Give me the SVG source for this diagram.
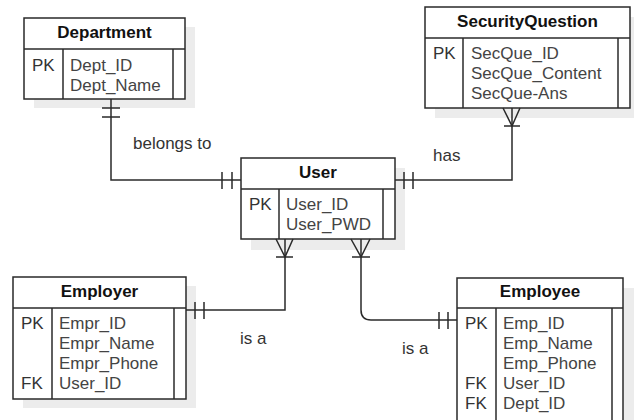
<svg xmlns="http://www.w3.org/2000/svg" width="634" height="420" viewBox="0 0 634 420">
  <style>
    .shadow { fill: #ececec; }
    .box { fill: #ffffff; stroke: #2a2a2a; stroke-width: 1.5; }
    .div { stroke: #2a2a2a; stroke-width: 1.5; fill: none; }
    .title { font-family: "Liberation Sans", Arial, sans-serif; font-size: 17px; font-weight: bold; fill: #111; text-anchor: middle; }
    .key { font-family: "Liberation Sans", Arial, sans-serif; font-size: 17px; fill: #333; }
    .field { font-family: "Liberation Sans", Arial, sans-serif; font-size: 17px; fill: #444; }
    .label { font-family: "Liberation Sans", Arial, sans-serif; font-size: 17px; fill: #333; }
    .edge { stroke: #2a2a2a; stroke-width: 1.5; fill: none; }
  </style>

  <rect width="634" height="420" fill="#ffffff"/>

  <!-- Department -->
  <g id="department">
    <rect class="shadow" x="34" y="27" width="161" height="81"/>
    <rect class="box" x="24" y="18" width="161" height="81"/>
    <line class="div" x1="24" y1="49" x2="185" y2="49"/>
    <line class="div" x1="63" y1="49" x2="63" y2="99"/>
    <line class="div" x1="173" y1="49" x2="173" y2="99"/>
    <text class="title" x="104.5" y="38">Department</text>
    <text class="key" x="32" y="71">PK</text>
    <text class="field" x="70" y="71">Dept_ID</text>
    <text class="field" x="70" y="91">Dept_Name</text>
  </g>

  <!-- SecurityQuestion -->
  <g id="security-question">
    <rect class="shadow" x="435" y="17" width="199" height="101"/>
    <rect class="box" x="425" y="7" width="205" height="101"/>
    <line class="div" x1="425" y1="38" x2="630" y2="38"/>
    <line class="div" x1="463" y1="38" x2="463" y2="108"/>
    <line class="div" x1="618" y1="38" x2="618" y2="108"/>
    <text class="title" x="527.5" y="27">SecurityQuestion</text>
    <text class="key" x="433" y="59">PK</text>
    <text class="field" x="471" y="59">SecQue_ID</text>
    <text class="field" x="471" y="79">SecQue_Content</text>
    <text class="field" x="471" y="99">SecQue-Ans</text>
  </g>

  <!-- User -->
  <g id="user">
    <rect class="shadow" x="251" y="168" width="154" height="82"/>
    <rect class="box" x="241" y="158" width="154" height="81"/>
    <line class="div" x1="241" y1="189" x2="395" y2="189"/>
    <line class="div" x1="279" y1="189" x2="279" y2="239"/>
    <line class="div" x1="383" y1="189" x2="383" y2="239"/>
    <text class="title" x="318" y="178">User</text>
    <text class="key" x="249" y="210">PK</text>
    <text class="field" x="286" y="210">User_ID</text>
    <text class="field" x="286" y="230">User_PWD</text>
  </g>

  <!-- Employer -->
  <g id="employer">
    <rect class="shadow" x="23" y="286" width="173" height="122"/>
    <rect class="box" x="13" y="277" width="173" height="122"/>
    <line class="div" x1="13" y1="308" x2="186" y2="308"/>
    <line class="div" x1="52" y1="308" x2="52" y2="399"/>
    <line class="div" x1="174" y1="308" x2="174" y2="399"/>
    <text class="title" x="99.5" y="297">Employer</text>
    <text class="key" x="21" y="329">PK</text>
    <text class="field" x="59" y="329">Empr_ID</text>
    <text class="field" x="59" y="349">Empr_Name</text>
    <text class="field" x="59" y="369">Empr_Phone</text>
    <text class="key" x="21" y="389">FK</text>
    <text class="field" x="59" y="389">User_ID</text>
  </g>

  <!-- Employee -->
  <g id="employee">
    <rect class="shadow" x="467" y="288" width="167" height="140"/>
    <rect class="box" x="457" y="278" width="166" height="150"/>
    <line class="div" x1="457" y1="308" x2="623" y2="308"/>
    <line class="div" x1="496" y1="308" x2="496" y2="428"/>
    <line class="div" x1="612" y1="308" x2="612" y2="428"/>
    <text class="title" x="540" y="297">Employee</text>
    <text class="key" x="465" y="329">PK</text>
    <text class="field" x="503" y="329">Emp_ID</text>
    <text class="field" x="503" y="349">Emp_Name</text>
    <text class="field" x="503" y="369">Emp_Phone</text>
    <text class="key" x="465" y="389">FK</text>
    <text class="field" x="503" y="389">User_ID</text>
    <text class="key" x="465" y="409">FK</text>
    <text class="field" x="503" y="409">Dept_ID</text>
  </g>

  <!-- Relationships -->
  <g id="connectors">
    <!-- Department to User: belongs to -->
    <path class="edge" d="M111 99 V180 H241"/>
    <path class="edge" d="M102 108 H120 M102 117 H120"/>
    <path class="edge" d="M222 172 V189 M232 172 V189"/>
    <text class="label" x="133" y="149">belongs to</text>

    <!-- SecurityQuestion to User: has -->
    <path class="edge" d="M512 108 V180 H395"/>
    <path class="edge" d="M503 108 L512 126 L520 108 M504 126 H520"/>
    <path class="edge" d="M404 172 V189 M413 172 V189"/>
    <text class="label" x="433" y="161">has</text>

    <!-- User to Employer: is a -->
    <path class="edge" d="M285 239 V310 H186"/>
    <path class="edge" d="M276 239 L285 257 L293 239 M276 257 H293"/>
    <path class="edge" d="M195 302 V319 M204 302 V319"/>
    <text class="label" x="240" y="344">is a</text>

    <!-- User to Employee: is a -->
    <path class="edge" d="M361 239 V310 Q361 320 371 320 H457"/>
    <path class="edge" d="M351 239 L361 257 L370 239 M352 257 H370"/>
    <path class="edge" d="M439 312 V329 M448 312 V329"/>
    <text class="label" x="402" y="354">is a</text>
  </g>
</svg>
